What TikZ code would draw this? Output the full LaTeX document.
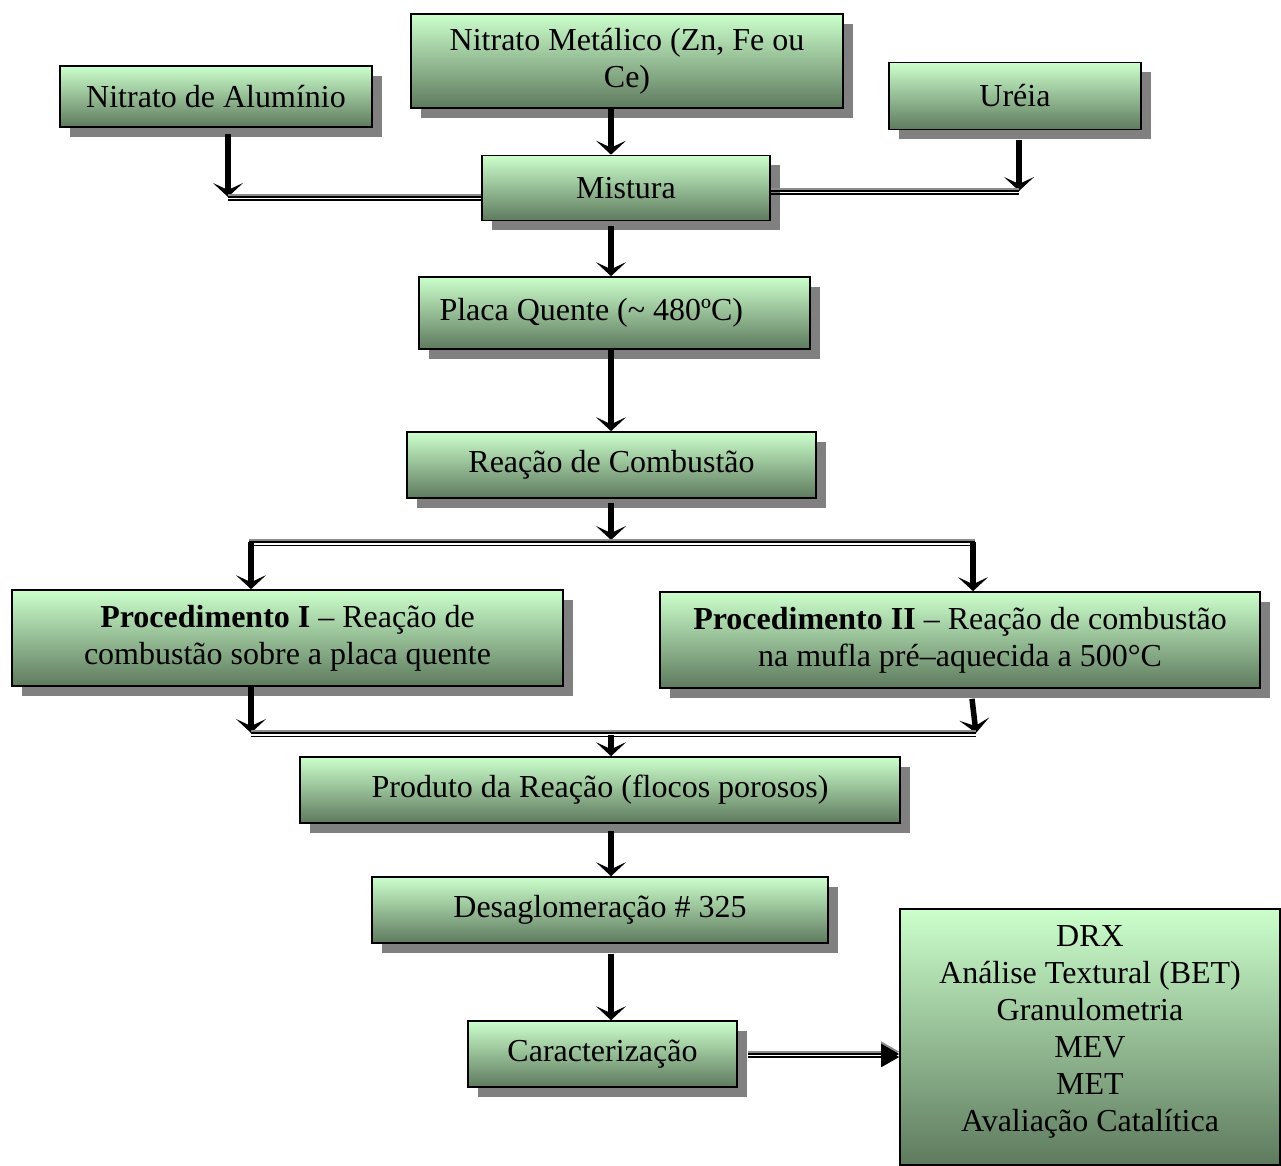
\documentclass[tikz,border=0pt]{standalone}
\usepackage{fontspec}
\setmainfont{Liberation Serif}
\usetikzlibrary{arrows.meta,shadows}
\definecolor{boxtop}{RGB}{204,255,204}
\definecolor{boxbot}{RGB}{94,122,94}
\definecolor{shgray}{RGB}{128,128,128}
\definecolor{lgray}{RGB}{140,140,140}
\tikzset{
  box/.style={draw=black, line width=1.6pt, top color=boxtop, bottom color=boxbot,
    drop shadow={shadow xshift=10pt, shadow yshift=-10pt, fill=shgray, opacity=1},
    font=\fontsize{32}{37}\selectfont, align=center, inner sep=0pt},
  arr/.style={line width=5.5pt, -{Stealth[length=14pt,width=30pt,inset=7pt]}},
  dline/.style={draw=black, line width=1.8pt,
    preaction={draw=lgray, line width=2pt, transform canvas={yshift=2pt}},
    postaction={draw=black, line width=1.8pt, transform canvas={yshift=-3.4pt}}},
  bigarr/.style={draw=black, line width=2.2pt,
    preaction={draw=lgray, line width=2pt, transform canvas={yshift=2.4pt}},
    postaction={draw=black, line width=1.8pt, transform canvas={yshift=-3pt}},
    -{Triangle[length=18pt,width=20pt]}}
}
\begin{document}
\begin{tikzpicture}[x=1pt,y=-1pt]
\useasboundingbox (0,0) rectangle (1281,1166);
\coordinate (sp) at (611,0);
% boxes
\node[box, minimum width=312pt, minimum height=61pt] (alu) at (216,96.5) {Nitrato de Alumínio};
\node[box, minimum width=432pt, minimum height=94pt] (met) at (627,61) {Nitrato Metálico (Zn, Fe ou\\Ce)};
\node[box, minimum width=252pt, minimum height=67pt] (ure) at (1015,96) {Uréia};
\node[box, minimum width=288pt, minimum height=65pt] (mix) at (626,188) {Mistura};
\node[box, minimum width=391pt, minimum height=72pt] (pla) at (614.5,313) {\makebox[350pt][l]{Placa Quente (\textasciitilde{} 480ºC)}};
\node[box, minimum width=409pt, minimum height=66pt] (rea) at (611.5,465) {Reação de Combustão};
\node[box, minimum width=551pt, minimum height=96pt] (p1) at (287.5,638) {\textbf{Procedimento I} – Reação de\\combustão sobre a placa quente};
\node[box, minimum width=600pt, minimum height=96pt] (p2) at (960,640) {\textbf{Procedimento II} – Reação de combustão\\na mufla pré–aquecida a 500°C};
\node[box, minimum width=600pt, minimum height=66pt] (pro) at (600,790) {Produto da Reação (flocos porosos)};
\node[box, minimum width=456pt, minimum height=66pt] (des) at (600,910) {Desaglomeração \# 325};
\node[box, minimum width=269pt, minimum height=66pt] (car) at (602.5,1054) {Caracterização};
\node[box, minimum width=380pt, minimum height=256pt, text depth=16pt] (res) at (1090,1037) {DRX\\Análise Textural (BET)\\Granulometria\\MEV\\MET\\Avaliação Catalítica};
% junction coordinates
\coordinate (cL) at (228,197);
\coordinate (cR) at (1019,191);
\coordinate (sL) at (251,542);
\coordinate (sR) at (973,542);
\coordinate (sM) at (611,540);
\coordinate (mL) at (251,733);
\coordinate (mR) at (976,733);
\coordinate (mM) at (611,735);
% top connectors
\draw[arr] ([yshift=-6pt]alu.south -| cL) -- (cL);
\draw[dline] (cL) -- (cL -| mix.west);
\draw[arr] ([yshift=-10pt]ure.south -| cR) -- (cR);
\draw[dline] (mix.east |- cR) -- (cR);
\draw[arr] (met.south -| sp) -- (mix.north -| sp);
\draw[arr] ([yshift=-5pt]mix.south -| sp) -- (pla.north -| sp);
\draw[arr] (pla.south -| sp) -- (rea.north -| sp);
% split
\draw[arr] ([yshift=-4pt]rea.south -| sp) -- (sM);
\draw[dline] ([xshift=-2pt]sL) -- ([xshift=2pt]sR);
\draw[arr] (sL) -- (p1.north -| sL);
\draw[arr] (sR) -- (p2.north -| sR);
% merge
\draw[arr] (p1.south -| mL) -- (mL);
\draw[arr] ([yshift=-10pt]p2.south -| 972,0) -- (mR);
\draw[dline] (mL) -- (mR);
\draw[arr] (mM) -- (pro.north -| mM);
% lower
\draw[arr] ([yshift=-7pt]pro.south -| sp) -- (des.north -| sp);
\draw[arr] ([yshift=-10pt]des.south -| sp) -- (car.north -| sp);
\draw[bigarr] ([xshift=10pt]car.east) -- (res.west |- car.east);
\end{tikzpicture}
\end{document}
